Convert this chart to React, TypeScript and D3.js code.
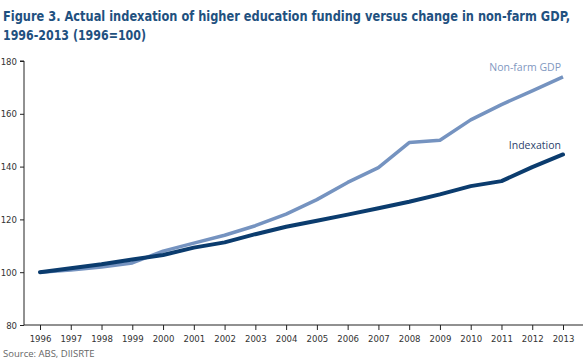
import * as d3 from "d3";
import { useEffect, useRef } from "react";

const years = [1996, 1997, 1998, 1999, 2000, 2001, 2002, 2003, 2004, 2005, 2006, 2007, 2008, 2009, 2010, 2011, 2012, 2013];
const nonFarmGdp = [100, 100.8, 102, 103.5, 108, 111, 114, 117.6, 122, 127.5, 134, 139.6, 149.1, 150, 157.7, 163.5, 168.7, 174];
const indexation = [100, 101.5, 103, 104.8, 106.5, 109.3, 111.3, 114.4, 117.2, 119.5, 121.8, 124.2, 126.7, 129.5, 132.6, 134.5, 139.8, 144.6];
const yTicks = [80, 100, 120, 140, 160, 180];

const W = 583;
const H = 362;
const narrow = "'Liberation Sans Narrow', 'Arial Narrow', 'DejaVu Sans Condensed', sans-serif";

const draw = (el: SVGSVGElement) => {
    const svg = d3.select(el);
    svg.selectAll("*").remove();

    const x = d3.scaleLinear().domain([1996, 2013]).range([40, 563]);
    const y = d3.scaleLinear().domain([80, 180]).range([325, 61]);

    // title (scaled group so glyphs are a bit taller than the base size)
    const title = svg.append("g")
        .attr("transform", "translate(3,0) scale(1.08)")
        .attr("font-family", narrow)
        .attr("font-weight", "bold")
        .attr("font-size", 12.8)
        .attr("fill", "#1f5180");
    title.append("text").attr("x", 0).attr("y", 21 / 1.08)
        .attr("textLength", 567 / 1.08).attr("lengthAdjust", "spacingAndGlyphs")
        .text("Figure 3. Actual indexation of higher education funding versus change in non-farm GDP,");
    title.append("text").attr("x", 0).attr("y", 40 / 1.08)
        .attr("textLength", 143 / 1.08).attr("lengthAdjust", "spacingAndGlyphs")
        .text("1996-2013 (1996=100)");

    // y axis
    const yAxis = svg.append("g")
        .attr("transform", "translate(24,0)")
        .call(d3.axisLeft(y).tickValues(yTicks).tickSize(4).tickPadding(3));
    yAxis.selectAll("path, line").attr("stroke", "#222");
    yAxis.selectAll("path").attr("d", `M-4,${y(180)}H0V${y(80)}`);
    yAxis.selectAll("text")
        .attr("font-family", narrow)
        .attr("font-size", 9.5)
        .attr("fill", "#333");

    // x axis
    const xAxis = svg.append("g")
        .attr("transform", `translate(0,${y(80)})`)
        .call(d3.axisBottom(x).tickValues(years).tickFormat(d3.format("d")).tickSize(5).tickPadding(5));
    xAxis.selectAll("path").attr("d", `M24,0H${W}`).attr("stroke", "#222");
    xAxis.selectAll("line").attr("stroke", "#222");
    xAxis.selectAll("text")
        .attr("font-family", narrow)
        .attr("font-size", 9.5)
        .attr("fill", "#333");

    const line = (vals: number[]) => d3.line<number>()
        .x((_, i) => x(years[i]))
        .y(d => y(d))(vals);

    svg.append("path")
        .attr("d", line(nonFarmGdp))
        .attr("fill", "none")
        .attr("stroke", "#7593c0")
        .attr("stroke-width", 3.5)
        .attr("stroke-linejoin", "round");

    svg.append("path")
        .attr("d", line(indexation))
        .attr("fill", "none")
        .attr("stroke", "#0b3c6e")
        .attr("stroke-width", 4)
        .attr("stroke-linejoin", "round")
        .attr("stroke-linecap", "round");

    // series labels
    svg.append("text")
        .attr("x", 561).attr("y", 71)
        .attr("text-anchor", "end")
        .attr("font-family", "'Open Sans', sans-serif")
        .attr("font-size", 10.5)
        .attr("fill", "#7f98bf")
        .text("Non-farm GDP");
    svg.append("text")
        .attr("x", 561).attr("y", 149)
        .attr("text-anchor", "end")
        .attr("font-family", "'Open Sans', sans-serif")
        .attr("font-size", 10.5)
        .attr("fill", "#2c3f6c")
        .text("Indexation");

    // source
    svg.append("text")
        .attr("x", 3).attr("y", 357)
        .attr("font-family", "'Open Sans', sans-serif")
        .attr("font-size", 9.5)
        .attr("fill", "#666")
        .text("Source: ABS, DIISRTE");
};

export default function App() {
    const ref = useRef<SVGSVGElement>(null);
    useEffect(() => {
        if (ref.current) draw(ref.current);
    }, []);
    return (
        <div style={{ position: "absolute", left: 0, top: 0, width: W, height: H, background: "#fff" }}>
            <svg ref={ref} width={W} height={H} />
        </div>
    );
}
